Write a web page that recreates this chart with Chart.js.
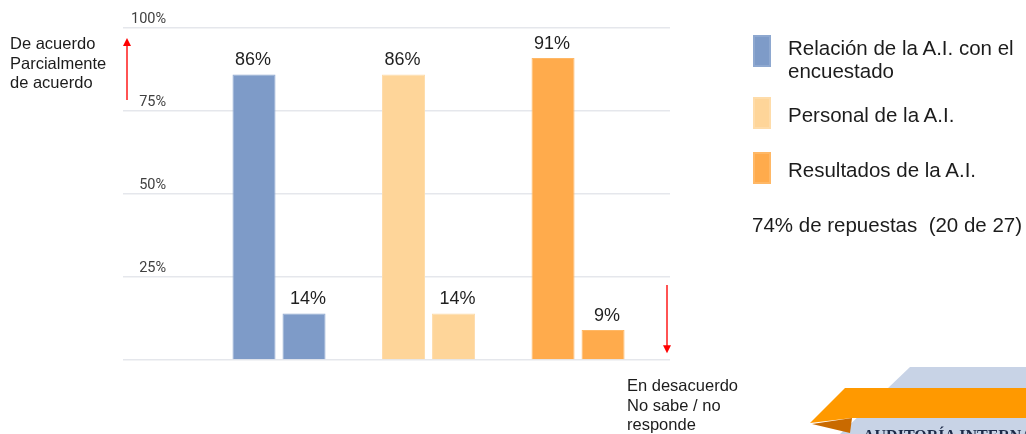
<!DOCTYPE html>
<html>
<head>
<meta charset="utf-8">
<title>Encuesta A.I.</title>
<script src="https://cdn.jsdelivr.net/npm/chart.js@4.4.1/dist/chart.umd.min.js"></script>
<style>
  html, body { margin: 0; padding: 0; background: #fff; overflow: hidden; }
  #wrap { position: relative; width: 1026px; height: 434px; font-family: 'Liberation Sans', Arial, sans-serif; color: #1c1c1c; }
  #chart { position: absolute; left: 0; top: 0; }
  .note { position: absolute; font-size: 16.5px; line-height: 19.5px; white-space: nowrap; }
  .leg { position: absolute; left: 788px; font-size: 20.5px; line-height: 23px; white-space: nowrap; }
  .swatch { position: absolute; left: 753px; width: 14px; border: 2px solid; box-sizing: content-box; }
  #deco { position: absolute; left: 0; top: 0; }
</style>
</head>
<body>
<div id="wrap">
  <canvas id="chart" width="1026" height="434"></canvas>
  <div class="note" style="left:10px; top:34px;">De acuerdo<br>Parcialmente<br>de acuerdo</div>
  <div class="note" style="left:627px; top:376px;">En desacuerdo<br>No sabe / no<br>responde</div>
  <div id="legend"></div>
  <div class="leg" style="left:752px; top:213px;">74% de repuestas&nbsp; (20 de 27)</div>
  <svg id="deco" width="1026" height="434">
    <polygon points="910,367 1026,367 1026,434 840,434" fill="#c8d3e6"/>
    <polygon points="845,388 1026,388 1026,418 852,418 810,423" fill="#ff9900"/>
    <polygon points="812,424 852,418 850,433" fill="#c96a00"/>
    <text x="863" y="441" font-family="'Liberation Serif', serif" font-weight="bold" font-size="16" fill="#1d2a48">AUDITORÍA INTERNA</text>
  </svg>
</div>
<script>
// Categories (one colour each) and the two bars per category
const categories = ['Relación de la A.I. con el encuestado', 'Personal de la A.I.', 'Resultados de la A.I.'];
const agreeValues = [86, 86, 91];     // De acuerdo / Parcialmente de acuerdo
const disagreeValues = [14, 14, 9];   // En desacuerdo / No sabe / no responde
const seriesColors = ['#7e9bc8', '#fed599', '#ffab4c'];
const seriesBorders = ['#8ea8d0', '#fedcaa', '#ffb866'];
const xPositions = [1, 2, 3];
const yTickValues = [0, 25, 50, 75, 100];
const yTickLabels = ['', '25%', '50%', '75%', '100%'];

// Legend on the right, built from the categories
const legendTops = [36, 103, 158];
const swatchTops = [35, 97, 152];
let legendHtml = '';
categories.forEach(function (name, i) {
    let text = name;
    if (i === 0) text = 'Relación de la A.I. con el<br>encuestado';
    legendHtml += '<div class="swatch" style="top:' + swatchTops[i] + 'px; height:' + 28 + 'px; background:' + seriesColors[i] + '; border-color:' + seriesBorders[i] + ';"></div>';
    legendHtml += '<div class="leg" style="top:' + legendTops[i] + 'px;">' + text + '</div>';
});
document.getElementById('legend').innerHTML = legendHtml;

// Value labels above the bars
const valueLabels = {
    id: 'valueLabels',
    afterDatasetsDraw(chart) {
        const ctx = chart.ctx;
        ctx.save();
        ctx.font = '18px "Liberation Sans", Arial, sans-serif';
        ctx.fillStyle = '#1f1f1f';
        ctx.textAlign = 'center';
        ctx.textBaseline = 'bottom';
        chart.data.datasets.forEach(function (ds, d) {
            chart.getDatasetMeta(d).data.forEach(function (bar, i) {
                ctx.fillText(ds.data[i].y + '%', bar.x + (d === 1 ? 4 : -1), bar.y - 5);
            });
        });
        ctx.restore();
    }
};

// Red arrows: agreement up on the left, disagreement down on the right
function drawArrow(ctx, x, yFrom, yTo) {
    const dir = yTo < yFrom ? -1 : 1;
    ctx.beginPath();
    ctx.moveTo(x, yFrom);
    ctx.lineTo(x, yTo - dir * 7);
    ctx.stroke();
    ctx.beginPath();
    ctx.moveTo(x, yTo);
    ctx.lineTo(x - 4, yTo - dir * 8);
    ctx.lineTo(x + 4, yTo - dir * 8);
    ctx.closePath();
    ctx.fill();
}

const arrows = {
    id: 'arrows',
    afterDraw(chart) {
        const ctx = chart.ctx;
        const y = chart.scales.y;
        const area = chart.chartArea;
        ctx.save();
        ctx.strokeStyle = '#ff1a1a';
        ctx.fillStyle = '#ff0000';
        ctx.lineWidth = 1.5;
        drawArrow(ctx, area.left + 4, y.getPixelForValue(78.3), y.getPixelForValue(97));
        drawArrow(ctx, area.right - 3, y.getPixelForValue(22.6), y.getPixelForValue(2));
        ctx.restore();
    }
};

const ctx = document.getElementById('chart').getContext('2d');
const myChart = new Chart(ctx, {
    type: 'bar',
    data: {
        datasets: [{
            label: 'De acuerdo',
            data: xPositions.map((x, i) => ({ x: x, y: agreeValues[i] })),
            backgroundColor: seriesColors,
            borderColor: seriesBorders,
            borderWidth: 1
        }, {
            label: 'En desacuerdo',
            data: xPositions.map((x, i) => ({ x: x, y: disagreeValues[i] })),
            backgroundColor: seriesColors,
            borderColor: seriesBorders,
            borderWidth: 1
        }]
    },
    options: {
        responsive: false,
        animation: false,
        categoryPercentage: 0.669,
        barPercentage: 0.86,
        layout: { padding: { left: 123, right: 356, top: 28, bottom: 74 } },
        plugins: {
            legend: { display: false },
            tooltip: { enabled: false }
        },
        scales: {
            x: {
                type: 'linear',
                display: false,
                offset: false,
                bounds: 'data',
                min: -0.0435,
                max: 3.615,
                afterBuildTicks: function (scale) {
                    scale.ticks = xPositions.map(v => ({ value: v }));
                }
            },
            y: {
                min: 0,
                max: 100,
                border: { display: false },
                grid: { color: '#e5e7ec', lineWidth: 1.5, drawTicks: false },
                afterBuildTicks: function (scale) {
                    scale.ticks = yTickValues.map(v => ({ value: v }));
                },
                afterFit: function (scale) {
                    scale.width = 0;
                },
                ticks: {
                    mirror: true,
                    crossAlign: 'far',
                    padding: 8,
                    labelOffset: -9,
                    color: '#404040',
                    font: { family: "'Liberation Sans Narrow', 'Roboto', sans-serif", size: 14.5 },
                    callback: function (v) { return yTickLabels[yTickValues.indexOf(v)]; }
                }
            }
        }
    },
    plugins: [valueLabels, arrows]
});
</script>
</body>
</html>
